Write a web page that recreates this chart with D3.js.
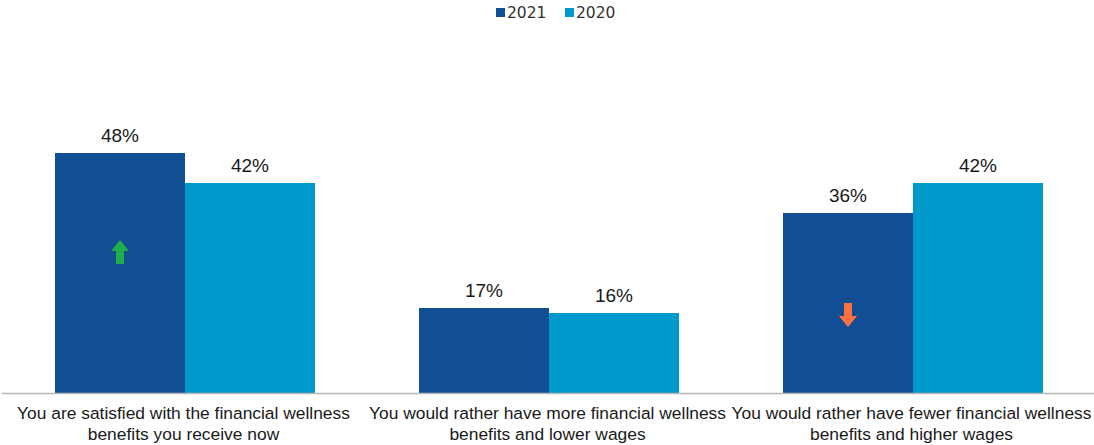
<!DOCTYPE html>
<html>
<head>
<meta charset="utf-8">
<script src="https://cdn.jsdelivr.net/npm/d3@7"></script>
<style>
  html, body { margin: 0; padding: 0; background: #fff; }
  svg { display: block; }
</style>
</head>
<body>
<svg id="chart" width="1094" height="445"></svg>
<script>
const categories = [
  ["You are satisfied with the financial wellness", "benefits you receive now"],
  ["You would rather have more financial wellness", "benefits and lower wages"],
  ["You would rather have fewer financial wellness", "benefits and higher wages"]
];
const seriesNames = ["2021", "2020"];
const values2021 = [48, 17, 36];
const values2020 = [42, 16, 42];
// change direction marker for 2021 bars: 1 up, -1 down, 0 none
const trend2021 = [1, 0, -1];

const colors = { "2021": "#124e94", "2020": "#0099cc" };

const svg = d3.select("#chart");
const baseY = 393;

const x0 = d3.scaleBand().domain(d3.range(categories.length)).range([1.5, 1093.5]).paddingInner(0).paddingOuter(0);
const x1 = d3.scaleBand().domain(seriesNames).range([53.5, 313.5]);
const y = d3.scaleLinear().domain([0, 60]).range([baseY, baseY - 300]);

const data = categories.map((c, i) => ({
  i, label: c, vals: [
    { s: "2021", v: values2021[i] },
    { s: "2020", v: values2020[i] }
  ]
}));

const groups = svg.append("g").selectAll("g").data(data).join("g")
  .attr("transform", d => `translate(${x0(d.i)},0)`);

groups.selectAll("rect").data(d => d.vals).join("rect")
  .attr("x", d => x1(d.s))
  .attr("width", x1.bandwidth())
  .attr("y", d => y(d.v))
  .attr("height", d => baseY - y(d.v))
  .attr("fill", d => colors[d.s]);

groups.selectAll("text.val").data(d => d.vals).join("text")
  .attr("class", "val")
  .attr("x", d => x1(d.s) + x1.bandwidth() / 2)
  .attr("y", d => y(d.v) - 11)
  .attr("text-anchor", "middle")
  .attr("font-family", "Liberation Sans, Arial, sans-serif")
  .attr("font-size", 19)
  .attr("fill", "#1a1a1a")
  .text(d => d.v + "%");

// axis baseline
svg.append("line")
  .attr("x1", 2).attr("x2", 1094)
  .attr("y1", baseY + 0.5).attr("y2", baseY + 0.5)
  .attr("stroke", "#b8b8b8").attr("stroke-width", 1.5);

// category labels
groups.append("text")
  .attr("x", x0.bandwidth() / 2)
  .attr("text-anchor", "middle")
  .attr("font-family", "Liberation Sans, Arial, sans-serif")
  .attr("font-size", 17.4)
  .attr("fill", "#1a1a1a")
  .selectAll("tspan").data(d => d.label).join("tspan")
  .attr("x", x0.bandwidth() / 2)
  .attr("y", (d, k) => 419 + k * 21)
  .text(d => d);

// trend arrows inside the 2021 bars
const arrowUp = "M0,-12 L9,-1 L4,-1 L4,12 L-4,12 L-4,-1 L-9,-1 Z";
groups.filter(d => trend2021[d.i] !== 0).append("path")
  .attr("d", arrowUp)
  .attr("fill", d => trend2021[d.i] > 0 ? "#1fae4c" : "#ff7040")
  .attr("transform", d => {
    const cx = x1("2021") + x1.bandwidth() / 2;
    const cy = trend2021[d.i] > 0 ? 252 : 315;
    return `translate(${cx},${cy}) rotate(${trend2021[d.i] > 0 ? 0 : 180})`;
  });

// legend
const legend = svg.append("g").attr("font-family", "DejaVu Sans, sans-serif").attr("font-size", 15.5);
const legendX = [496, 565];
seriesNames.forEach((s, k) => {
  const g = legend.append("g").attr("transform", `translate(${legendX[k]},0)`);
  g.append("rect").attr("x", 0).attr("y", 8).attr("width", 9).attr("height", 9).attr("fill", colors[s]);
  g.append("text").attr("x", 11).attr("y", 18).attr("fill", "#333").text(s);
});
</script>
</body>
</html>
